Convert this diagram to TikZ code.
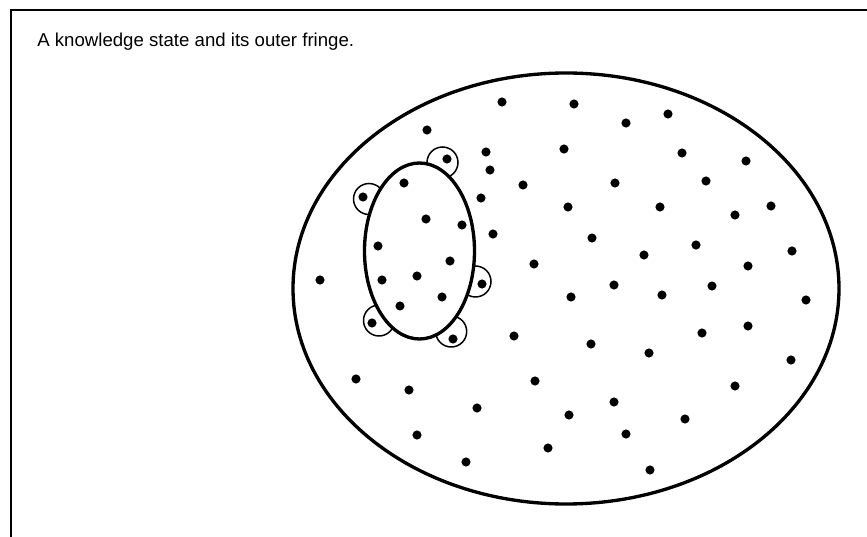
\documentclass[tikz,border=0pt]{standalone}
\usepackage{fontspec}
\setmainfont{Liberation Sans}
\definecolor{inkBlack}{HTML}{000000}
\tikzset{
    framerule/.style={draw=inkBlack,line width=0.8pt},
    outerstate/.style={draw=inkBlack,line width=1.9pt},
    innerstate/.style={draw=inkBlack,fill=white,line width=1.9pt},
    fringering/.style={draw=inkBlack,line width=0.85pt},
    itemdot/.style={fill=inkBlack},
    caption/.style={font=\fontsize{10.6pt}{12pt}\selectfont,anchor=base west,
        inner sep=0pt}
}

\begin{document}
\begin{tikzpicture}[x=0.02cm,y=-0.02cm]
    \useasboundingbox (0,0) rectangle (867,537);
    \draw[framerule] (11,537) -- (11,10) -- (867,10);
    \node[caption] (title) at (37,46.7) {A knowledge state and its outer fringe.};

    % domain of all items
    \draw[outerstate] (566,288.5) ellipse [x radius=273,y radius=215.5];

    % fringe: one circle per item that can be added
    \foreach \cx/\cy in {442.5/162.5,369/199,475.5/281.5,379/320.5,451.2/331.5} {
        \draw[fringering] (\cx,\cy) circle [radius=15.5];
    }
    % the knowledge state
    \draw[innerstate] (419.5,251) ellipse [x radius=55,y radius=88];

    % items
    \foreach \px/\py in {502/102,574/104,626/123,668/114,427/130,486/152,564/149,
        682/153,746/161,490/170,523/185,615/183,706/181,481/198,568/207,660/207,
        735/215,771/206,493/234,592/238,696/245,792/251,534/264,644/255,748/266,
        320/280,614/285,712/286,571/297,662/295,806/300,748/326,514/336,702/333,
        591/344,649/353,791/360,356/379,535/381,409/390,614/402,735/386,477/408,
        569/415,685/419,417/435,626/434,548/448,466/462,650/470,
        404/183,426/219,462/225,378/246,450/261,382/280,417/276,442/297,400/306,
        447/159,363/197,482/284,372/323,453/339} {
        \fill[itemdot] (\px,\py) circle [radius=2.6pt];
    }
\end{tikzpicture}
\end{document}
